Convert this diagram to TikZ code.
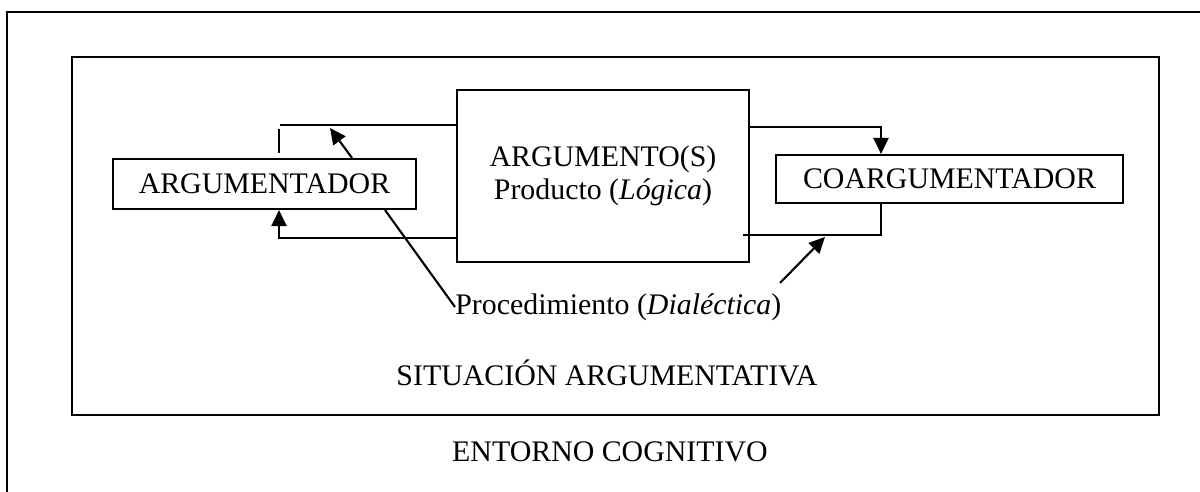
\documentclass[tikz,border=0pt]{standalone}
\usepackage{fontspec}
\setmainfont{Liberation Serif}
\usetikzlibrary{arrows.meta}

\tikzset{
	box/.style={draw, line width=1.2pt, inner sep=0pt, align=center, font=\fontsize{17}{19}\selectfont},
	label text/.style={inner sep=0pt, font=\fontsize{17}{19}\selectfont},
	link/.style={line width=1.2pt},
	arrowlink/.style={line width=1.2pt, -{Triangle[length=0.32cm, width=0.3cm]}}
}

\begin{document}
\begin{tikzpicture}[x=0.02cm, y=-0.02cm]
	\useasboundingbox (0,0) rectangle (1200,492);
	
	% Frames
	\draw[line width=1.4pt] (7,530) -- (7,12) -- (1230,12);
	\draw[line width=1.2pt] (72,57) rectangle (1159,415);
	
	% Boxes
	\node[box, minimum width=6.06cm, minimum height=1.0cm] (argumentador) at (264.5,184) {ARGUMENTADOR};
	\node[box, minimum width=5.84cm, minimum height=3.44cm] (argumentos) at (603,176) {ARGUMENTO(S)\\Producto (\textit{Lógica})};
	\node[box, minimum width=6.94cm, minimum height=0.96cm] (coargumentador) at (949.5,179) {COARGUMENTADOR};
	
	% Texts
	\node[label text, anchor=west] (procedimiento) at (455,307) {Procedimiento (\textit{Dialéctica})};
	\node[label text] (situacion) at (607,373) {SITUACIÓN ARGUMENTATIVA};
	\node[label text] (entorno) at (610,452) {ENTORNO COGNITIVO};
	
	% Left connectors
	\coordinate (leftCol) at (279,0);
	\coordinate (topLeft) at (280,125);
	\draw[link] (argumentos.west |- topLeft) -- (topLeft);
	\draw[link] (279,129) -- (279,153);
	\draw[arrowlink] (argumentos.west |- 0,238) -| (argumentador.south -| leftCol);
	\draw[arrowlink] (argumentador.north -| 352,0) -- (330,128);
	\draw[link] (argumentador.south -| 385,0) -- (procedimiento.west);
	
	% Right connectors
	\coordinate (rightCol) at (881,0);
	\draw[arrowlink] (argumentos.east |- 0,127) -| (coargumentador.north -| rightCol);
	\draw[link] (743,235) -| (coargumentador.south -| rightCol);
	\draw[arrowlink] (780,283) -- (825,237);
\end{tikzpicture}
\end{document}
